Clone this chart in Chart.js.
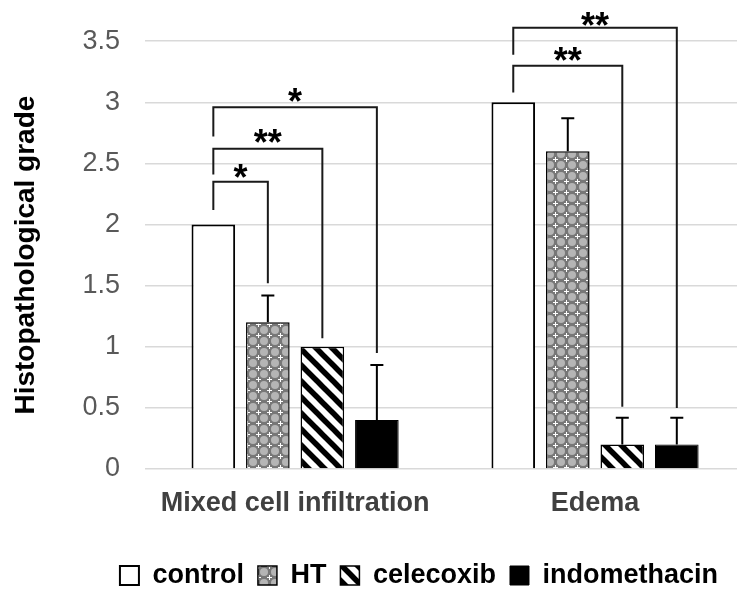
<!DOCTYPE html>
<html>
<head>
<meta charset="utf-8">
<script src="https://cdn.jsdelivr.net/npm/chart.js@4/dist/chart.umd.min.js"></script>
<style>
  html, body { margin: 0; padding: 0; background: #fff; overflow: hidden; }
  #wrap { width: 745px; height: 594px; }
</style>
</head>
<body>
<div id="wrap"><canvas id="chart" width="745" height="594"></canvas></div>
<script>
// categories and series
const categories = ['Mixed cell infiltration', 'Edema'];
const seriesNames = ['control', 'HT', 'celecoxib', 'indomethacin'];
const controlValues = [2, 3];
const htValues = [1.2, 2.6];
const celecoxibValues = [1.0, 0.2];
const indomethacinValues = [0.4, 0.2];

// error bars (+ side only)
const controlErrors = [0, 0];
const htErrors = [0.22, 0.27];
const celecoxibErrors = [0, 0.22];
const indomethacinErrors = [0.45, 0.22];

// y axis ticks
const yTicks = [0, 0.5, 1, 1.5, 2, 2.5, 3, 3.5];

// significance brackets: category, series from/to, levels in grade units, label
const bracketCats = [0, 0, 0, 1, 1];
const bracketFrom = [0, 0, 0, 0, 0];
const bracketTo = [1, 2, 3, 2, 3];
const bracketLeftLow = [2.12, 2.41, 2.72, 3.08, 3.39];
const bracketTop = [2.35, 2.62, 2.96, 3.30, 3.61];
const bracketRightLow = [1.52, 1.07, 0.95, 0.51, 0.50];
const bracketLabels = ['*', '**', '*', '**', '**'];
const bracketLabelY = [2.45, 2.74, 3.07, 3.41, 3.69];

const FONT = "'Liberation Sans', Arial, sans-serif";
Chart.defaults.font.family = FONT;

// HT fill pattern
function makeHtPattern() {
    const c = document.createElement('canvas');
    c.width = 11; c.height = 11;
    const g = c.getContext('2d');
    g.fillStyle = '#777777';
    g.fillRect(0, 0, 11, 11);
    g.fillStyle = '#b5b5b5';
    [[0, 0], [11, 0], [0, 11], [11, 11]].forEach(([px, py]) => {
        g.beginPath();
        g.arc(px, py, 4, 0, Math.PI * 2);
        g.fill();
    });
    g.fillStyle = '#ffffff';
    g.fillRect(3, 5, 5, 1);
    g.fillRect(5, 3, 1, 5);
    return g.createPattern(c, 'repeat');
}

// celecoxib diagonal stripes
function makeStripePattern() {
    const c = document.createElement('canvas');
    c.width = 16; c.height = 16;
    const g = c.getContext('2d');
    g.fillStyle = '#ffffff';
    g.fillRect(0, 0, 16, 16);
    g.strokeStyle = '#000000';
    g.lineWidth = 5.5;
    [-16, 0, 16].forEach(o => {
        g.beginPath();
        g.moveTo(o - 2, -2);
        g.lineTo(o + 18, 18);
        g.stroke();
    });
    return g.createPattern(c, 'repeat');
}

const valueSets = [controlValues, htValues, celecoxibValues, indomethacinValues];
const errorSets = [controlErrors, htErrors, celecoxibErrors, indomethacinErrors];
const fills = ['#ffffff', makeHtPattern(), makeStripePattern(), '#000000'];
const borderWidths = [2, 1.5, 1.5, 1];

// error bars + significance brackets
const annotationPlugin = {
    id: 'sigAndErrors',
    afterDatasetsDraw(chart) {
        const ctx = chart.ctx;
        const y = chart.scales.y;
        ctx.save();
        ctx.strokeStyle = '#000';
        ctx.lineWidth = 2;

        errorSets.forEach((errs, i) => {
            chart.getDatasetMeta(i).data.forEach((bar, j) => {
                if (!errs[j]) return;
                const top = y.getPixelForValue(valueSets[i][j] + errs[j]);
                ctx.beginPath();
                ctx.moveTo(bar.x, bar.y);
                ctx.lineTo(bar.x, top);
                ctx.moveTo(bar.x - 6.5, top);
                ctx.lineTo(bar.x + 6.5, top);
                ctx.stroke();
            });
        });

        ctx.strokeStyle = '#1a1a1a';
        ctx.fillStyle = '#000';
        ctx.font = 'bold 36px ' + FONT;
        ctx.textAlign = 'center';
        ctx.textBaseline = 'alphabetic';
        bracketCats.forEach((cat, k) => {
            const x1 = chart.getDatasetMeta(bracketFrom[k]).data[cat].x;
            const x2 = chart.getDatasetMeta(bracketTo[k]).data[cat].x;
            const yTop = y.getPixelForValue(bracketTop[k]);
            ctx.beginPath();
            ctx.moveTo(x1, y.getPixelForValue(bracketLeftLow[k]));
            ctx.lineTo(x1, yTop);
            ctx.lineTo(x2, yTop);
            ctx.lineTo(x2, y.getPixelForValue(bracketRightLow[k]));
            ctx.stroke();
            const cy = y.getPixelForValue(bracketLabelY[k]);
            ctx.fillText(bracketLabels[k], (x1 + x2) / 2, cy + 36 * 0.57);
        });
        ctx.restore();
    },
    afterLayout(chart) {
        // legend sits a little left of the (cropped) right edge
        chart.legend.right -= 13;
    }
};

const ctx = document.getElementById('chart').getContext('2d');
new Chart(ctx, {
    type: 'bar',
    data: {
        labels: categories,
        datasets: seriesNames.map((name, i) => ({
            label: name,
            data: valueSets[i],
            backgroundColor: fills[i],
            borderColor: '#000000',
            borderWidth: borderWidths[i],
            categoryPercentage: 0.727,
            barPercentage: 0.8
        }))
    },
    options: {
        responsive: false,
        animation: false,
        layout: { padding: { top: 40, left: 9, right: 0, bottom: -5 } },
        plugins: {
            legend: {
                position: 'bottom',
                align: 'end',
                labels: {
                    color: '#000',
                    font: { size: 27, weight: 'bold' },
                    boxWidth: 19,
                    boxHeight: 19,
                    padding: 14
                }
            },
            tooltip: { enabled: false }
        },
        scales: {
            x: {
                grid: { display: false },
                border: { display: false },
                ticks: { color: '#404040', font: { size: 27, weight: 'bold' }, padding: 10 },
                afterFit(scale) { scale.height = 79; }
            },
            y: {
                min: 0,
                max: 3.5,
                afterBuildTicks(scale) { scale.ticks = yTicks.map(v => ({ value: v })); },
                grid: { color: '#d9d9d9', lineWidth: 1.5, drawTicks: false },
                border: { display: false },
                ticks: {
                    color: '#595959',
                    font: { size: 27 },
                    padding: 25,
                    callback: v => String(v)
                },
                title: {
                    display: true,
                    text: 'Histopathological grade',
                    color: '#000',
                    font: { size: 28, weight: 'bold' },
                    padding: { top: 0, bottom: 15 }
                }
            }
        }
    },
    plugins: [annotationPlugin]
});
</script>
</body>
</html>
